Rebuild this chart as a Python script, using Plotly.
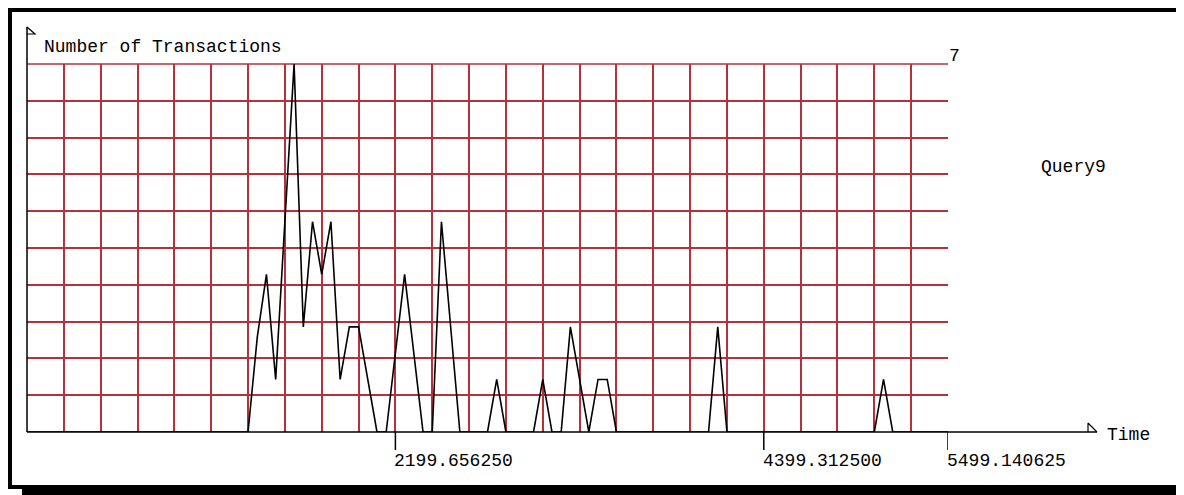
"""Query9 transaction counts over time, drawn in the old X11 strip-chart look."""

import plotly.graph_objects as go

_FONT = "Liberation Mono, DejaVu Sans Mono, monospace"
_GRID = "#b4323c"

# ── data ──────────────────────────────────────────────────────────────────────
# one sample every 54.99 time units; only the corners of the polyline are kept
times = [
    0.00, 1319.79, 1374.79, 1429.78, 1484.77, 1539.76, 1594.75, 1649.74,
    1704.73, 1759.72, 1814.72, 1869.71, 1924.70, 1979.69, 2089.67, 2144.66,
    2254.65, 2364.63, 2419.62, 2474.61, 2584.60, 2749.57, 2804.56, 2859.55,
    3024.53, 3079.52, 3134.51, 3189.50, 3244.49, 3354.48, 3409.47, 3464.46,
    3519.45, 4069.36, 4124.36, 4179.35, 5059.21, 5114.20, 5169.19, 5499.14,
]
transactions = [
    0, 0, 1.8, 3, 1, 4, 7, 2,
    4, 3, 4, 1, 2, 2, 0, 0,
    3, 0, 0, 4, 0, 0, 1, 0,
    0, 1, 0, 0, 2, 0, 1, 1,
    0, 0, 2, 0, 0, 1, 0, 0,
]

x_max = 5499.140625
y_max = 7
tick_values = [2199.656250, 4399.312500, 5499.140625]
tick_labels = ["2199.656250", "4399.312500", "5499.140625"]
series_name = "Query9"

# 25 x 10 grid cells
x_grid = [x_max / 25 * k for k in range(1, 25)]
y_grid = [y_max / 10 * k for k in range(1, 10)]

# ── pixel helpers ─────────────────────────────────────────────────────────────
# page is 1184x495, the browser puts the figure 8px in from the corner,
# plot area sits at 27..948 x 64..432 in page pixels
_OFF = 8
_PAGE_W, _PAGE_H = 1184, 495
_L, _W, _B, _H = 27, 921, 432, 368


def px(x):
    return (x - _L) / _W


def py(y):
    return (_B - y) / _H


fig = go.Figure(
    go.Scatter(
        x=times,
        y=transactions,
        mode="lines",
        line=dict(color="black", width=1.6),
        name=series_name,
        cliponaxis=False,
        showlegend=False,
    )
)

shapes = [
    # top grid line: plotly drops a grid line sitting on the plot edge
    dict(type="line", xref="paper", yref="paper",
         x0=0, x1=1, y0=1, y1=1,
         line=dict(color=_GRID, width=1.5), layer="below"),
    # outer frame and its drop shadow
    dict(type="rect", xref="paper", yref="paper",
         x0=px(10), x1=px(1178), y0=py(487), y1=py(10),
         line=dict(color="black", width=4), layer="above"),
    dict(type="rect", xref="paper", yref="paper",
         x0=px(22), x1=px(1184), y0=py(495), y1=py(489),
         fillcolor="black", line=dict(width=0)),
    dict(type="rect", xref="paper", yref="paper",
         x0=px(1179), x1=px(1184), y0=py(495), y1=py(22),
         fillcolor="black", line=dict(width=0)),
    # axes with their little flag arrows
    dict(type="line", xref="paper", yref="paper",
         x0=0, x1=px(1097), y0=0, y1=0,
         line=dict(color="black", width=1.5), layer="above"),
    dict(type="line", xref="paper", yref="paper",
         x0=0, x1=0, y0=0, y1=py(27),
         line=dict(color="black", width=1.5), layer="above"),
    dict(type="path", xref="paper", yref="paper",
         path=f"M {px(1088)} {py(423)} L {px(1097)} {py(432)} M {px(1088)} {py(423)} L {px(1088)} {py(432)}",
         line=dict(color="black", width=1.2)),
    dict(type="path", xref="paper", yref="paper",
         path=f"M {px(27)} {py(27)} L {px(35)} {py(34)} L {px(27)} {py(34)}",
         line=dict(color="black", width=1.2)),
]

_txt = dict(size=18, color="black", family=_FONT)
annotations = [
    dict(text="Number of Transactions", xref="paper", yref="paper",
         x=px(42), y=py(47), xanchor="left", yanchor="middle",
         showarrow=False, font=_txt),
    dict(text=str(y_max), xref="paper", yref="paper",
         x=px(947), y=py(56), xanchor="left", yanchor="middle",
         showarrow=False, font=_txt),
    dict(text=series_name, xref="paper", yref="paper",
         x=px(1039), y=py(167), xanchor="left", yanchor="middle",
         showarrow=False, font=_txt),
    dict(text="Time", xref="paper", yref="paper",
         x=px(1105), y=py(435), xanchor="left", yanchor="middle",
         showarrow=False, font=_txt),
]
for val, lab in zip(tick_values, tick_labels):
    shapes.append(dict(type="line", xref="x", yref="paper",
                       x0=val, x1=val, y0=0, y1=py(450),
                       line=dict(color="black", width=1.5)))
    annotations.append(dict(text=lab, xref="x", yref="paper",
                            x=val, y=py(461), xanchor="left", yanchor="middle",
                            xshift=-3, showarrow=False, font=_txt))

fig.update_layout(
    width=_PAGE_W - _OFF,
    height=_PAGE_H - _OFF,
    margin=dict(
        l=_L - _OFF,
        r=_PAGE_W - (_L + _W),
        t=_B - _H - _OFF,
        b=_PAGE_H - _B,
    ),
    paper_bgcolor="white",
    plot_bgcolor="white",
    xaxis=dict(
        range=[0, x_max],
        tickvals=x_grid,
        showticklabels=False,
        ticks="",
        showgrid=True,
        gridcolor=_GRID,
        gridwidth=1.5,
        zeroline=False,
        showline=False,
    ),
    yaxis=dict(
        range=[0, y_max],
        tickvals=y_grid,
        showticklabels=False,
        ticks="",
        showgrid=True,
        gridcolor=_GRID,
        gridwidth=1.5,
        zeroline=False,
        showline=False,
    ),
    shapes=shapes,
    annotations=annotations,
    showlegend=False,
)

fig.write_html("out.html")
